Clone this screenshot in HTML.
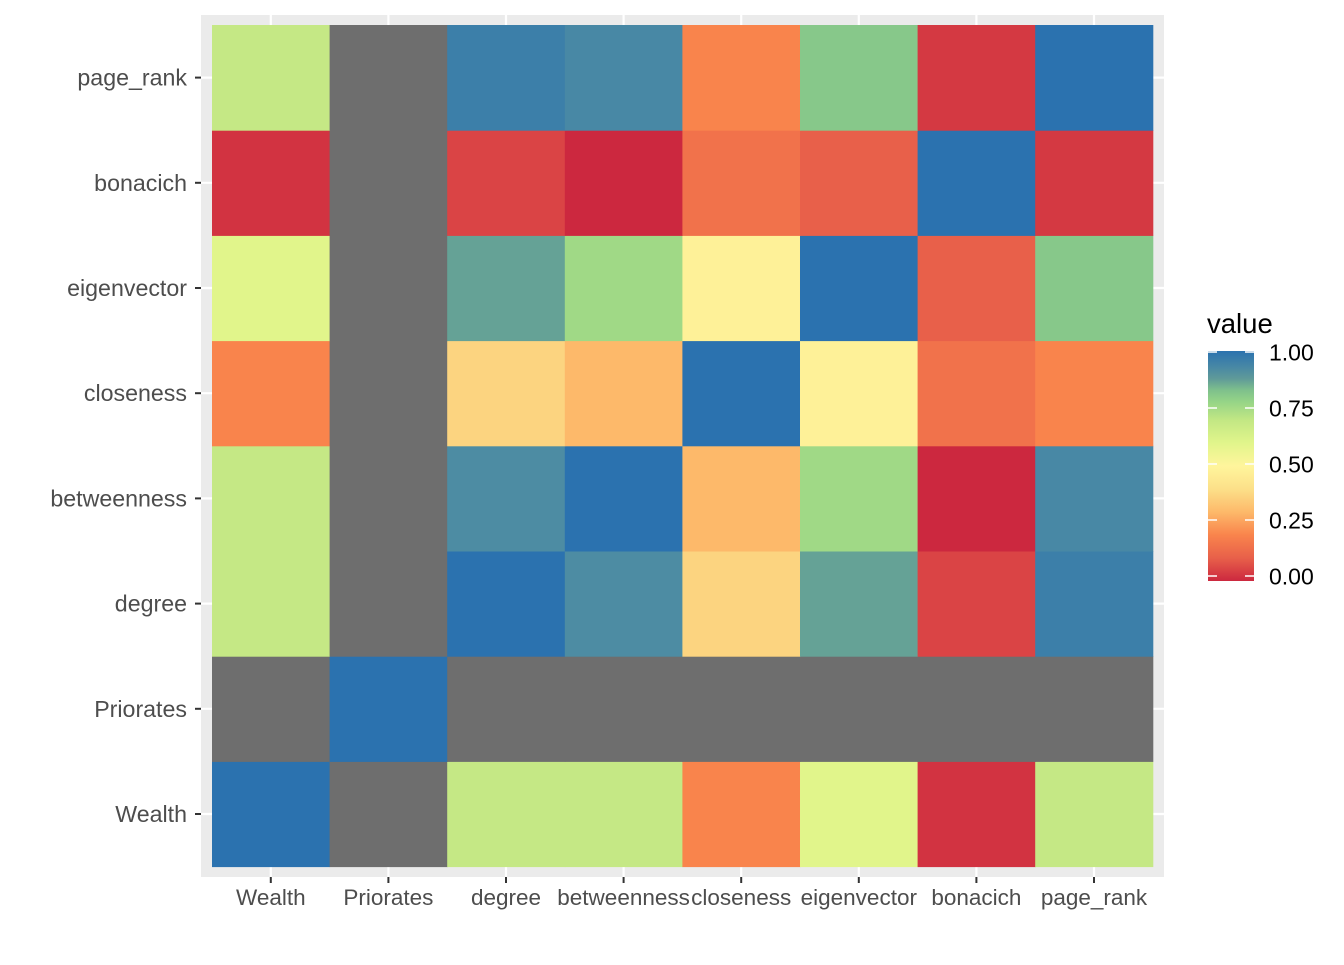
<!DOCTYPE html>
<html><head><meta charset="utf-8"><style>
body{margin:0;background:#fff;}
svg text{font-family:"Liberation Sans",Arial,sans-serif;}
</style></head><body>
<svg id="chart" width="1344" height="960">
<defs>
<linearGradient id="lg" x1="0" y1="1" x2="0" y2="0"></linearGradient>
</defs>
<rect x="201" y="15" width="963" height="862" fill="#EBEBEB"/>
<g id="grid"></g><g id="tiles"></g><g id="axes"></g><g id="legend"></g>
</svg>
<script>
const xCats=["Wealth","Priorates","degree","betweenness","closeness","eigenvector","bonacich","page_rank"];
const yCats=["Wealth","Priorates","degree","betweenness","closeness","eigenvector","bonacich","page_rank"];
// rows correspond to yCats (bottom to top), columns to xCats; null = NA
const rowWealth=[1,null,0.69,0.69,0.2,0.6,0.02,0.69];
const rowPriorates=[null,1,null,null,null,null,null,null];
const rowDegree=[0.69,null,1,0.92,0.37,0.87,0.05,0.96];
const rowBetweenness=[0.69,null,0.92,1,0.3,0.76,0.0,0.93];
const rowCloseness=[0.2,null,0.37,0.3,1,0.48,0.15,0.2];
const rowEigenvector=[0.6,null,0.87,0.76,0.48,1,0.1,0.81];
const rowBonacich=[0.02,null,0.05,0.0,0.15,0.1,1,0.03];
const rowPageRank=[0.69,null,0.96,0.93,0.2,0.81,0.03,1];
const values=[rowWealth,rowPriorates,rowDegree,rowBetweenness,rowCloseness,rowEigenvector,rowBonacich,rowPageRank];
const legendTicks=[0,0.25,0.5,0.75,1];
const legendLabels=["0.00","0.25","0.50","0.75","1.00"];

const stops=[[0,"#CC283F"],[0.1,"#E8604A"],[0.2,"#F9844C"],[0.3,"#FDB96A"],[0.4,"#FCE089"],[0.5,"#FFF59C"],[0.6,"#E1F58B"],[0.7,"#C2E784"],[0.78,"#95D487"],[0.83,"#7EC08C"],[0.88,"#5F9A99"],[0.93,"#4888A5"],[1,"#2B72AF"]];
function hex(c){return[1,3,5].map(i=>parseInt(c.substr(i,2),16));}
function color(v){for(let i=1;i<stops.length;i++){if(v<=stops[i][0]){const a=stops[i-1],b=stops[i];const t=(v-a[0])/(b[0]-a[0]);const ca=hex(a[1]),cb=hex(b[1]);return "rgb("+ca.map((x,k)=>Math.round(x+(cb[k]-x)*t)).join(",")+")";}}return stops[stops.length-1][1];}
const NS="http://www.w3.org/2000/svg";
const x0=212,cw=117.6,yb=866.6,rh=105.2;
const xs=i=>x0+cw*i, xc=i=>x0+cw*(i+0.5);
const ys=j=>yb-rh*(j+1), yc=j=>yb-rh*(j+0.5);
function mk(tag,attrs,parent){const e=document.createElementNS(NS,tag);for(const k in attrs)e.setAttribute(k,attrs[k]);parent.appendChild(e);return e;}
const grid=document.getElementById('grid'),tiles=document.getElementById('tiles'),axes=document.getElementById('axes'),leg=document.getElementById('legend');
xCats.forEach((c,i)=>{const l=mk('line',{x1:xc(i),x2:xc(i),y1:15,y2:877,stroke:'#fff','stroke-width':2.2},grid);});
yCats.forEach((c,j)=>{const l=mk('line',{x1:201,x2:1164,y1:yc(j),y2:yc(j),stroke:'#fff','stroke-width':2.2},grid);});
values.forEach((row,j)=>row.forEach((v,i)=>{const r=mk('rect',{x:xs(i),y:ys(j),width:cw+0.5,height:rh+0.5,fill:v===null?'#6E6E6E':color(v)},tiles);}));
xCats.forEach((c,i)=>{mk('line',{x1:xc(i),x2:xc(i),y1:877,y2:883,stroke:'#333','stroke-width':2},axes);const t=mk('text',{x:xc(i),y:905,'text-anchor':'middle','font-size':22.5,fill:'#4D4D4D'},axes);t.textContent=c;});
yCats.forEach((c,j)=>{mk('line',{x1:195,x2:201,y1:yc(j),y2:yc(j),stroke:'#333','stroke-width':2},axes);const t=mk('text',{x:187,y:yc(j)+8,'text-anchor':'end','font-size':23.2,fill:'#4D4D4D'},axes);t.textContent=c;});
// legend
const lg=document.getElementById('lg');
stops.forEach(s=>{mk('stop',{offset:s[0],'stop-color':s[1]},lg);});
const lt=mk('text',{x:1207,y:333,'font-size':27.5,fill:'#000'},leg);lt.textContent='value';
const ly0=576,ly1=352;
const bar=mk('rect',{x:1208,y:ly1-1,width:46,height:ly0-ly1+6,fill:'url(#lg)'},leg);
legendTicks.forEach((v,k)=>{const y=ly0-(ly0-ly1)*v;mk('line',{x1:1208,x2:1217,y1:y,y2:y,stroke:'#fff','stroke-width':1.5},leg);mk('line',{x1:1245,x2:1254,y1:y,y2:y,stroke:'#fff','stroke-width':1.5},leg);const t=mk('text',{x:1269,y:y+8.5,'font-size':23,fill:'#000'},leg);t.textContent=legendLabels[k];});
</script>
</body></html>
